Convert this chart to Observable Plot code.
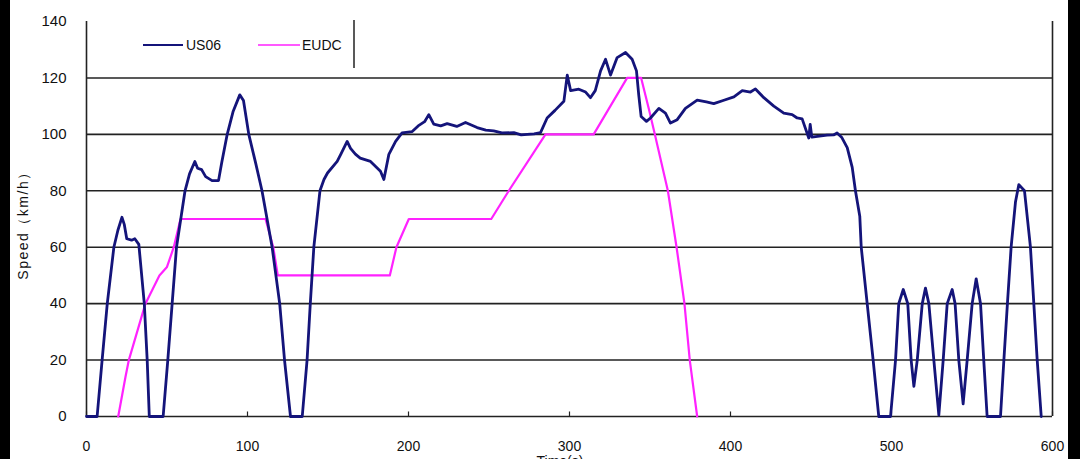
<!DOCTYPE html>
<html>
<head>
<meta charset="utf-8">
<script src="https://cdn.jsdelivr.net/npm/d3@7"></script>
<script src="https://cdn.jsdelivr.net/npm/@observablehq/plot@0.6"></script>
<style>
  html, body { margin: 0; padding: 0; background: #fff; width: 1080px; height: 459px; overflow: hidden; }
  #wrap { position: relative; width: 1080px; height: 459px; }
  .bar { position: absolute; top: 0; height: 459px; background: #000; }
  #legend { position: absolute; left: 0; top: 0; width: 1080px; height: 459px; pointer-events: none; }
</style>
</head>
<body>
<div id="wrap"></div>
<script>
// ---- data ----
const usTime = [0, 5, 6.6, 9.7, 12.9, 17, 19.5, 22, 23.5, 25, 28, 30, 32.5, 35.9, 37.7, 39, 47.6, 50.5, 53.2, 55.9, 61.2, 64, 67.3, 69, 71.5, 74, 78, 82, 84, 87.4, 91, 95.2, 97.5, 100.8, 105, 109, 115.3, 120, 123, 126.7, 134, 137, 139, 141.2, 145, 147.5, 149.7, 155.7, 158, 161.9, 164, 167, 170, 176.4, 182.6, 184.7, 187.8, 192, 196, 202.3, 206, 210, 212.6, 215.7, 220, 224, 230, 235.4, 242.6, 248, 252.9, 258, 265.4, 270, 273.7, 278, 282, 286.1, 291, 296.5, 298.6, 300.7, 305.8, 310, 313, 316, 319.3, 322.4, 325.5, 329.6, 334.8, 338.9, 341.6, 343, 344.5, 347.8, 350.3, 355.5, 359.6, 362.7, 366.9, 372, 379.3, 385, 389.6, 395.9, 402.1, 407.3, 412.4, 415.5, 420.7, 426.9, 433.1, 438.3, 441.4, 444.5, 448.6, 449.5, 450.5, 454, 460, 464, 466.2, 469, 472.5, 475.6, 477.6, 480.3, 481.2, 484.9, 488.6, 492.1, 499.4, 502.5, 504.5, 507.3, 510.1, 512.2, 513.9, 516, 519.1, 521.1, 523.2, 526.3, 529.4, 532.1, 534.6, 537.7, 539.5, 541.8, 544.5, 547, 550.1, 552.6, 555.3, 557.3, 559.4, 567.7, 569.8, 572, 574.3, 577, 579.1, 582.6, 586.3, 588.4, 590.5, 593];
const usSpeed = [0, 0, 0, 20, 40, 60, 66, 70.6, 68, 63, 62.5, 63, 61, 40, 20, 0, 0, 20, 40, 60, 80, 86, 90.4, 88, 87.5, 85, 83.6, 83.6, 90, 100, 108, 114, 112, 100, 90, 80, 60, 40, 20, 0, 0, 20, 40, 60, 80, 84, 86.3, 90.4, 93, 97.5, 95, 93, 91.6, 90.4, 86.9, 84, 92.9, 97.5, 100.5, 101, 103, 104.5, 107, 103.6, 103, 103.8, 102.8, 104.2, 102.4, 101.5, 101.2, 100.5, 100.6, 99.8, 100, 100.2, 100.6, 105.8, 108.5, 111.7, 121, 115.5, 116, 115, 113, 115.5, 122.5, 126.6, 121, 127.2, 129, 126.6, 122.5, 114, 106.3, 104.6, 105.8, 109.2, 107.5, 104, 105.2, 109.2, 112.1, 111.5, 110.9, 112.1, 113.3, 115.5, 115, 116.1, 113, 110, 107.5, 107, 105.8, 105.5, 98.7, 103.5, 99, 99.3, 99.7, 99.8, 100.5, 99, 95.3, 88.3, 80, 71, 60, 40, 20, 0, 0, 20, 40, 45, 40, 20, 10.7, 20, 40, 45.5, 40, 20, 0.5, 20, 40, 45, 40, 20, 4.5, 20, 40, 48.8, 40, 20, 0, 0, 20, 40, 60, 76, 82.2, 80, 60, 40, 20, 0];

const eudcTime = [19.7, 24.2, 26.3, 36.6, 45.3, 50, 54.2, 58.4, 111.2, 116, 118.8, 188.4, 192.5, 200.2, 251.4, 262.3, 285.1, 315, 335.8, 344.5, 349.3, 353, 361.1, 366.5, 371.4, 374.7, 379.3];
const eudcSpeed = [0, 14, 20, 40, 50, 53, 60, 70, 70, 60, 50, 50, 60, 70, 70, 80, 100, 100, 120, 120, 109, 100, 80, 60, 40, 20, 0];

const seriesNames = ["US06", "EUDC"];
const seriesColors = ["#14147a", "#ff22ff"];
const yTicks = [0, 20, 40, 60, 80, 100, 120, 140];
const xTicks = [0, 100, 200, 300, 400, 500, 600];
const gridValues = [20, 40, 60, 80, 100, 120];
const yTitle = "Speed（km/h）";
const xTitle = "Time(s)";

// ---- build tables ----
const us = usTime.map((t, i) => ({t, v: usSpeed[i]}));
const eudc = eudcTime.map((t, i) => ({t, v: eudcSpeed[i]}));

const font = "'Liberation Sans', Arial, sans-serif";

const chart = Plot.plot({
  width: 1080,
  height: 459,
  marginLeft: 86,
  marginRight: 28,
  marginTop: 21,
  marginBottom: 43,
  style: {fontFamily: font, fontSize: "15px", color: "#111", background: "transparent", overflow: "visible"},
  x: {domain: [0, 600], ticks: xTicks, tickFormat: d => String(d), label: null},
  y: {domain: [0, 140], ticks: yTicks, label: null},
  marks: [
    Plot.ruleY(gridValues, {stroke: "#222", strokeWidth: 1.6}),
    Plot.ruleY([0], {stroke: "#222", strokeWidth: 1.6}),
    Plot.ruleX([0, 600], {y1: 0, y2: 140, stroke: "#222", strokeWidth: 1.6}),
    Plot.ruleX(xTicks, {y1: 0, y2: 1.6, stroke: "#222", strokeWidth: 1.2}),
    Plot.axisY({ticks: yTicks, tickSize: 0, tickPadding: 20, fontSize: 15, label: null}),
    Plot.axisX({ticks: xTicks, tickSize: 0, tickPadding: 25, fontSize: 14, label: null}),
    Plot.line(eudc, {x: "t", y: "v", stroke: seriesColors[1], strokeWidth: 2.2, curve: "linear"}),
    Plot.line(us, {x: "t", y: "v", stroke: seriesColors[0], strokeWidth: 2.8, curve: "linear", strokeLinejoin: "round"})
  ]
});

const wrap = document.getElementById("wrap");
chart.style.position = "absolute"; chart.style.left = "0"; chart.style.top = "0";
wrap.appendChild(chart);

// legend + titles overlay
const ns = "http://www.w3.org/2000/svg";
const leg = document.createElementNS(ns, "svg");
leg.setAttribute("id", "legend");
leg.setAttribute("width", 1080);
leg.setAttribute("height", 459);
const items = [
  {x1: 143, x2: 183, tx: 186},
  {x1: 258, x2: 300, tx: 302}
];
seriesNames.forEach((name, i) => {
  const it = items[i];
  const ln = document.createElementNS(ns, "line");
  ln.setAttribute("x1", it.x1); ln.setAttribute("x2", it.x2);
  ln.setAttribute("y1", 45); ln.setAttribute("y2", 45);
  ln.setAttribute("stroke", seriesColors[i]);
  ln.setAttribute("stroke-width", i === 0 ? 2 : 1.6);
  leg.appendChild(ln);
  const tx = document.createElementNS(ns, "text");
  tx.setAttribute("x", it.tx); tx.setAttribute("y", 50);
  tx.setAttribute("font-family", font);
  tx.setAttribute("font-size", 14);
  tx.setAttribute("fill", "#111");
  tx.textContent = name;
  leg.appendChild(tx);
});
const vl = document.createElementNS(ns, "line");
vl.setAttribute("x1", 354); vl.setAttribute("x2", 354);
vl.setAttribute("y1", 20); vl.setAttribute("y2", 68);
vl.setAttribute("stroke", "#222"); vl.setAttribute("stroke-width", 1.5);
leg.appendChild(vl);

const yt = document.createElementNS(ns, "text");
yt.setAttribute("transform", "translate(28,222) rotate(-90)");
yt.setAttribute("text-anchor", "middle");
yt.setAttribute("font-family", font);
yt.setAttribute("font-size", 14);
yt.setAttribute("letter-spacing", "1.5");
yt.setAttribute("fill", "#111");
yt.textContent = yTitle;
leg.appendChild(yt);

const xt = document.createElementNS(ns, "text");
xt.setAttribute("x", 560); xt.setAttribute("y", 466);
xt.setAttribute("text-anchor", "middle");
xt.setAttribute("font-family", font);
xt.setAttribute("font-size", 14);
xt.setAttribute("fill", "#111");
xt.textContent = xTitle;
leg.appendChild(xt);
wrap.appendChild(leg);

// black edge bands of the photographed page
const left = document.createElement("div");
left.className = "bar"; left.style.left = "0px"; left.style.width = "10px";
const right = document.createElement("div");
right.className = "bar"; right.style.left = "1068px"; right.style.width = "12px";
wrap.appendChild(left); wrap.appendChild(right);
</script>
</body>
</html>
